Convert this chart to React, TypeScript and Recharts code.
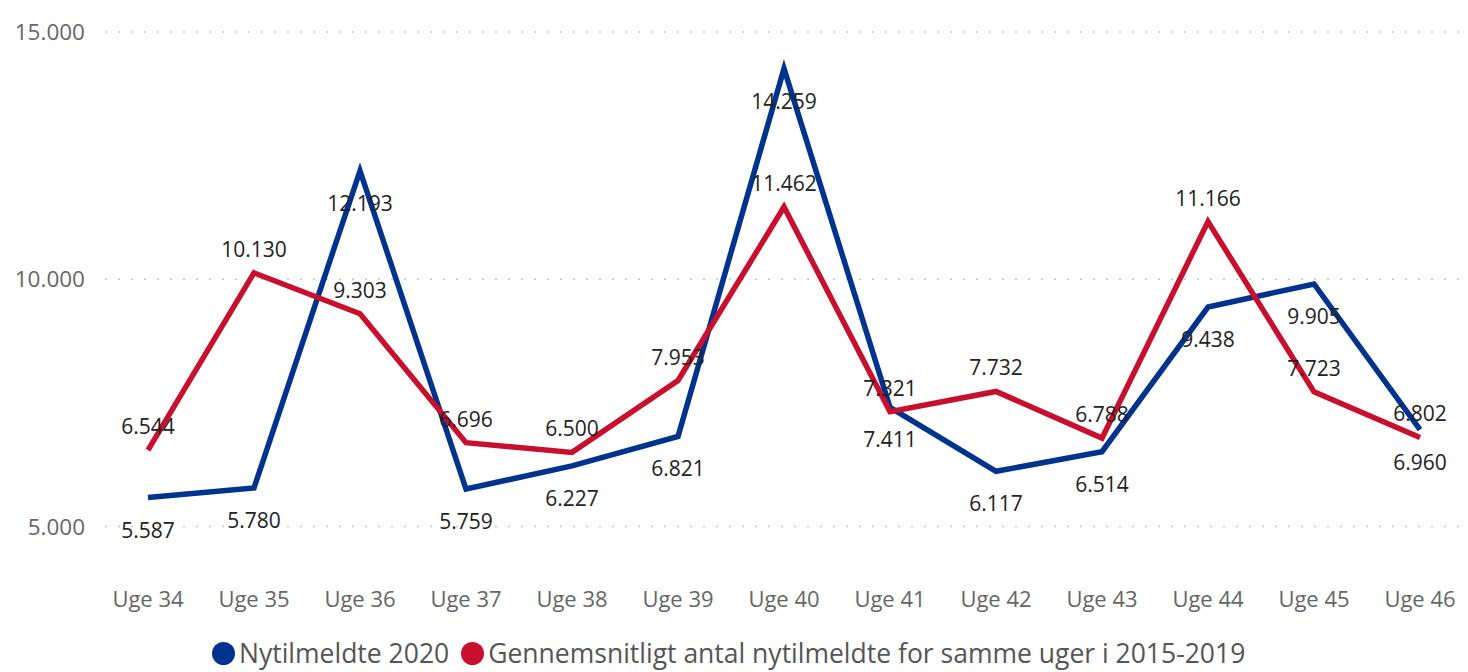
import React from "react";
import { LineChart, Line, XAxis, YAxis, CartesianGrid, LabelList } from "recharts";

const weeks = ["Uge 34", "Uge 35", "Uge 36", "Uge 37", "Uge 38", "Uge 39", "Uge 40", "Uge 41", "Uge 42", "Uge 43", "Uge 44", "Uge 45", "Uge 46"];
const new2020 = [5587, 5780, 12193, 5759, 6227, 6821, 14259, 7411, 6117, 6514, 9438, 9905, 6960];
const avg2015to2019 = [6544, 10130, 9303, 6696, 6500, 7953, 11462, 7321, 7732, 6788, 11166, 7723, 6802];
const yTicks = [5000, 10000, 15000];

const BLUE = "#00338d";
const RED = "#c8102e";
const FONT = "'Open Sans', 'Noto Sans', sans-serif";

const data = weeks.map((w, i) => ({ week: w, a: new2020[i], b: avg2015to2019[i] }));

const fmt = (v: number) => String(v).replace(/\B(?=(\d{3})+(?!\d))/g, ".");

const makeLabel = (dy: number) => (props: any) => {
  const { x, y, value } = props;
  return (
    <text x={x} y={y + dy} textAnchor="middle" dominantBaseline="central" fontSize={21} fill="#222" fontFamily={FONT}>
      {fmt(value)}
    </text>
  );
};

export default function App() {
  return (
    <div style={{ position: "absolute", left: 0, top: 0, width: 1468, height: 672, background: "#fff", fontFamily: FONT, overflow: "hidden" }}>
      <LineChart width={1468} height={672} data={data} margin={{ top: 32, right: 8, bottom: 66, left: 0 }}>
        <CartesianGrid vertical={false} horizontalValues={yTicks} stroke="#c8c8c8" strokeDasharray="2 11" strokeWidth={1.5} />
        <XAxis
          dataKey="week"
          axisLine={false}
          tickLine={false}
          tickMargin={9}
          padding={{ left: 43, right: 40 }}
          tick={{ fontSize: 22, fill: "#666", fontFamily: FONT }}
          interval={0}
        />
        <YAxis
          width={105}
          domain={[4000, 15000]}
          ticks={yTicks}
          axisLine={false}
          tickLine={false}
          tickMargin={14}
          tickFormatter={fmt}
          tick={{ fontSize: 22.5, fill: "#666", fontFamily: FONT }}
        />
        <Line dataKey="a" stroke={BLUE} strokeWidth={5.5} dot={false} isAnimationActive={false}>
          <LabelList dataKey="a" content={makeLabel(32)} />
        </Line>
        <Line dataKey="b" stroke={RED} strokeWidth={5.5} dot={false} isAnimationActive={false}>
          <LabelList dataKey="b" content={makeLabel(-24)} />
        </Line>
      </LineChart>
      <div style={{ position: "absolute", top: 638, left: 212, display: "flex", alignItems: "center", fontSize: 26.5, lineHeight: "30px", color: "#555", whiteSpace: "nowrap" }}>
        <span style={{ display: "inline-block", width: 23, height: 23, borderRadius: "50%", background: BLUE, marginRight: 4 }} />
        <span>Nytilmeldte 2020</span>
        <span style={{ display: "inline-block", width: 23, height: 23, borderRadius: "50%", background: RED, marginLeft: 12, marginRight: 4 }} />
        <span>Gennemsnitligt antal nytilmeldte for samme uger i 2015-2019</span>
      </div>
    </div>
  );
}
